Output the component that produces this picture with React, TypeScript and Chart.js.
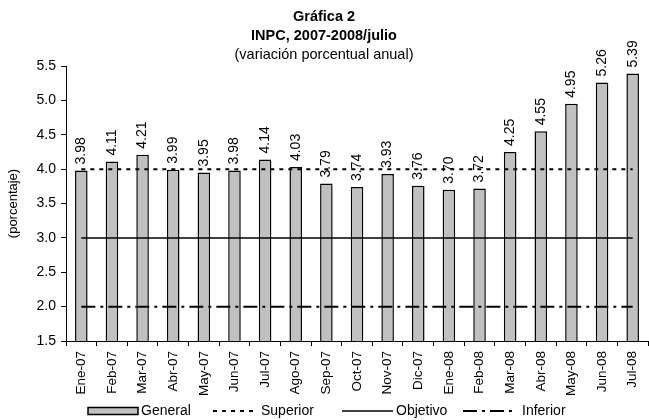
import { useEffect, useRef } from "react";
import { Chart, registerables } from "chart.js";

Chart.register(...registerables);

const categories = [
  "Ene-07", "Feb-07", "Mar-07", "Abr-07", "May-07", "Jun-07", "Jul-07", "Ago-07", "Sep-07",
  "Oct-07", "Nov-07", "Dic-07", "Ene-08", "Feb-08", "Mar-08", "Abr-08", "May-08", "Jun-08", "Jul-08",
];
const generalValues = [3.98, 4.11, 4.21, 3.99, 3.95, 3.98, 4.14, 4.03, 3.79, 3.74, 3.93, 3.76, 3.70, 3.72, 4.25, 4.55, 4.95, 5.26, 5.39];
const superiorValues = [4, 4, 4, 4, 4, 4, 4, 4, 4, 4, 4, 4, 4, 4, 4, 4, 4, 4, 4];
const objetivoValues = [3, 3, 3, 3, 3, 3, 3, 3, 3, 3, 3, 3, 3, 3, 3, 3, 3, 3, 3];
const inferiorValues = [2, 2, 2, 2, 2, 2, 2, 2, 2, 2, 2, 2, 2, 2, 2, 2, 2, 2, 2];
const seriesNames = ["General", "Superior", "Objetivo", "Inferior"];
const titleLines = ["Gráfica 2", "INPC, 2007-2008/julio"];
const subtitleText = "(variación porcentual anual)";
const yAxisTitle = "(porcentaje)";
const yMin = 1.5;
const yMax = 5.5;
const yStep = 0.5;

const FONT = "'Liberation Sans', Arial, sans-serif";
const BAR_GREY = "#c0c0c0";
const DASH_SUP = [4, 5];
const DASH_INF = [14, 5, 3, 5];

const valueLabelsPlugin = {
  id: "valueLabels",
  afterDatasetsDraw(chart: any) {
    const meta = chart.getDatasetMeta(0);
    const ctx = chart.ctx;
    ctx.save();
    ctx.font = `14px ${FONT}`;
    ctx.fillStyle = "#000";
    ctx.textAlign = "left";
    ctx.textBaseline = "middle";
    meta.data.forEach((bar: any, i: number) => {
      ctx.save();
      ctx.translate(bar.x, bar.y - 6);
      ctx.rotate(-Math.PI / 2);
      ctx.fillText(generalValues[i].toFixed(2), 0, 0);
      ctx.restore();
    });
    ctx.restore();
  },
};

const legendPlugin = {
  id: "customLegend",
  afterDraw(chart: any) {
    const ctx = chart.ctx;
    const y = 411;
    const items = [
      { kind: "box", x: 88, w: 50 },
      { kind: "line", x: 213, w: 45, dash: DASH_SUP, lw: 2 },
      { kind: "line", x: 342, w: 51, dash: [], lw: 1.5 },
      { kind: "line", x: 463, w: 50, dash: DASH_INF, lw: 2 },
    ];
    ctx.save();
    ctx.font = `14px ${FONT}`;
    ctx.fillStyle = "#000";
    ctx.textBaseline = "middle";
    ctx.textAlign = "left";
    items.forEach((it: any, i: number) => {
      ctx.save();
      if (it.kind === "box") {
        ctx.fillStyle = BAR_GREY;
        ctx.strokeStyle = "#000";
        ctx.lineWidth = 1.5;
        ctx.fillRect(it.x, y - 3.5, it.w, 7);
        ctx.strokeRect(it.x, y - 3.5, it.w, 7);
      } else {
        ctx.strokeStyle = "#000";
        ctx.lineWidth = it.lw;
        ctx.setLineDash(it.dash);
        ctx.beginPath();
        ctx.moveTo(it.x, y);
        ctx.lineTo(it.x + it.w, y);
        ctx.stroke();
      }
      ctx.restore();
      ctx.fillText(seriesNames[i], it.x + it.w + (i === 3 ? 9 : 3), y);
    });
    ctx.restore();
  },
};

export default function App() {
  const canvasRef = useRef<HTMLCanvasElement | null>(null);

  useEffect(() => {
    document.body.style.margin = "0";
    const canvas = canvasRef.current;
    if (!canvas) return;
    const chart = new Chart(canvas, {
      type: "bar",
      data: {
        labels: categories,
        datasets: [
          {
            type: "bar",
            label: seriesNames[0],
            data: generalValues,
            backgroundColor: BAR_GREY,
            borderColor: "#000",
            borderWidth: 1.5,
            barPercentage: 0.41,
            categoryPercentage: 1,
            order: 2,
          },
          {
            type: "line",
            label: seriesNames[1],
            data: superiorValues,
            borderColor: "#000",
            borderWidth: 2,
            borderDash: DASH_SUP,
            pointRadius: 0,
            fill: false,
            order: 1,
          },
          {
            type: "line",
            label: seriesNames[2],
            data: objetivoValues,
            borderColor: "#000",
            borderWidth: 1.5,
            pointRadius: 0,
            fill: false,
            order: 1,
          },
          {
            type: "line",
            label: seriesNames[3],
            data: inferiorValues,
            borderColor: "#000",
            borderWidth: 2,
            borderDash: DASH_INF,
            pointRadius: 0,
            fill: false,
            order: 1,
          },
        ] as any,
      },
      options: {
        animation: false,
        responsive: true,
        maintainAspectRatio: false,
        layout: { padding: { top: 0, left: 0, right: 1, bottom: 0 } },
        plugins: {
          legend: { display: false },
          tooltip: { enabled: false },
          title: {
            display: true,
            text: titleLines,
            fullSize: true,
            color: "#000",
            font: { family: FONT, size: 14.5, weight: "bold", lineHeight: "19px" },
            padding: { top: 7.5, bottom: 0 },
          },
          subtitle: {
            display: true,
            text: subtitleText,
            fullSize: true,
            color: "#000",
            font: { family: FONT, size: 14.5, weight: "normal", lineHeight: "19px" },
            padding: { top: 0, bottom: 1.5 },
          },
        },
        scales: {
          x: {
            grid: {
              display: true,
              drawOnChartArea: false,
              drawTicks: true,
              tickLength: 5,
              color: "#000",
              offset: true,
            },
            border: { display: true, color: "#000", width: 1 },
            ticks: {
              color: "#000",
              font: { family: FONT, size: 13.5 },
              minRotation: 90,
              maxRotation: 90,
              padding: 5,
              autoSkip: false,
            },
            afterFit: (scale: any) => {
              scale.height = 79;
              scale.paddingLeft = 0;
              scale.paddingRight = 0;
            },
          },
          y: {
            min: yMin,
            max: yMax,
            grid: {
              display: true,
              drawOnChartArea: false,
              drawTicks: true,
              tickLength: 5,
              color: "#000",
            },
            border: { display: true, color: "#000", width: 1 },
            ticks: {
              stepSize: yStep,
              color: "#000",
              font: { family: FONT, size: 14 },
              padding: 5,
              callback: (v: any) => Number(v).toFixed(1),
            },
            title: {
              display: true,
              text: yAxisTitle,
              color: "#000",
              font: { family: FONT, size: 13 },
              padding: { top: 6, bottom: 0 },
            },
            afterFit: (scale: any) => {
              scale.width = 66;
              scale.paddingTop = 0;
              scale.paddingBottom = 0;
            },
          },
        },
      },
      plugins: [valueLabelsPlugin, legendPlugin],
    });
    return () => chart.destroy();
  }, []);

  return (
    <div style={{ position: "fixed", left: 0, top: 0, width: 649, height: 420, background: "#fff" }}>
      <canvas ref={canvasRef} />
    </div>
  );
}
